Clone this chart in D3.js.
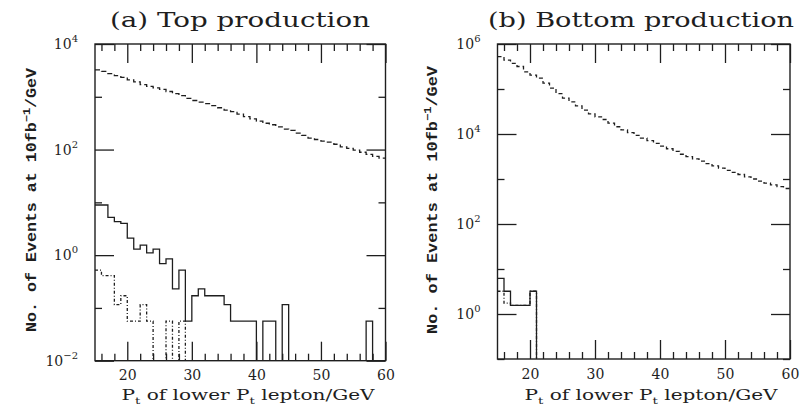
<!DOCTYPE html>
<html><head><meta charset="utf-8">
<script src="https://cdn.jsdelivr.net/npm/d3@7"></script>
<style>body{margin:0;background:#fff}svg{display:block}</style>
</head><body>
<svg id="c" width="800" height="413"></svg>
<script>
// ---- data (1 GeV bins from 15 to 60) ----
const binStart = 15, binEnd = 60;
const titles = ["(a) Top production", "(b) Bottom production"];
const xTickValues = [20, 30, 40, 50, 60];
const xMinorValues = [16, 18, 22, 24, 26, 28, 32, 34, 36, 38, 42, 44, 46, 48, 52, 54, 56, 58];
const leftYMajor = [1e-2, 1e0, 1e2, 1e4];
const leftYMinor = [1e-1, 1e1, 1e3];
const rightYMajor = [1e0, 1e2, 1e4, 1e6];
const rightYMinor = [1e-1, 1e1, 1e3, 1e5];

// (a) Top production
const topBackground = [3240, 3020, 2750, 2510, 2340, 2090, 1910, 1700, 1580, 1480,
  1380, 1260, 1150, 1050, 930, 850, 790, 740, 680, 620,
  560, 525, 470, 420, 380, 345, 315, 295, 270, 245,
  230, 205, 185, 165, 155, 145, 138, 126, 112, 105,
  98, 89, 81, 74, 69];
const topSignal = [8.9, 8.9, 5.2, 4.3, 4.0, 2.1, 1.3, 1.55, 1.1, 1.3,
  0.69, 0.85, 0.23, 0.52, 0.056, 0.17, 0.23, 0.17, 0.17, 0.17,
  0.115, 0.056, 0.056, 0.056, 0.056, 0, 0.056, 0.056, 0, 0.115,
  0, 0, 0, 0, 0, 0, 0, 0, 0, 0,
  0, 0, 0.056, 0, 0];
const topSignal2 = [0.52, 0.41, 0.41, 0.115, 0.17, 0.056, 0.056, 0.115, 0.056, 0,
  0, 0.056, 0, 0.056, 0, 0, 0, 0, 0, 0,
  0, 0, 0, 0, 0, 0, 0, 0, 0, 0,
  0, 0, 0, 0, 0, 0, 0, 0, 0, 0,
  0, 0, 0, 0, 0];

// (b) Bottom production
const bottomBackground = [525000, 437000, 372000, 316000, 240000, 204000, 174000, 135000, 105000, 79000,
  63000, 52000, 42000, 34000, 28000, 24000, 21000, 17400, 14500, 12300,
  10700, 9300, 8100, 7100, 6200, 5400, 4700, 4100, 3550, 3150,
  2800, 2500, 2200, 1950, 1750, 1560, 1400, 1260, 1120, 1000,
  900, 810, 740, 675, 615];
const bottomSignal = [6.2, 3.2, 1.55, 1.55, 1.55, 3.2, 0, 0, 0, 0,
  0, 0, 0, 0, 0, 0, 0, 0, 0, 0,
  0, 0, 0, 0, 0, 0, 0, 0, 0, 0,
  0, 0, 0, 0, 0, 0, 0, 0, 0, 0,
  0, 0, 0, 0, 0];
const bottomSignal2 = [3.2, 1.75, 1.55, 1.55, 1.55, 3.2, 0, 0, 0, 0,
  0, 0, 0, 0, 0, 0, 0, 0, 0, 0,
  0, 0, 0, 0, 0, 0, 0, 0, 0, 0,
  0, 0, 0, 0, 0, 0, 0, 0, 0, 0,
  0, 0, 0, 0, 0];

// ---- drawing ----
const svg = d3.select("#c");
const ink = "#1e1e1e";

const panels = [
  {title: titles[0], x0: 95, x1: 385.5, y0: 44, y1: 360.7, yDom: [1e-2, 1e4],
   yMajor: leftYMajor, yMinor: leftYMinor, titleX: 240, titleW: 260,
   xLabX: 248, yLabX: 36, yLabW: 264,
   series: [
     {vals: topBackground, dash: "5,3"},
     {vals: topSignal, dash: null},
     {vals: topSignal2, dash: "3,2,1,2"}
   ]},
  {title: titles[1], x0: 497.5, x1: 790, y0: 44, y1: 359, yDom: [1e-1, 1e6],
   yMajor: rightYMajor, yMinor: rightYMinor, titleX: 641, titleW: 306,
   xLabX: 651, yLabX: 437, yLabW: 268,
   series: [
     {vals: bottomBackground, dash: "4,3"},
     {vals: bottomSignal2, dash: "3,2,1,2"},
     {vals: bottomSignal, dash: null}
   ]}
];

panels.forEach((p, pi) => {
  const x = d3.scaleLinear().domain([binStart, binEnd]).range([p.x0, p.x1]);
  const y = d3.scaleLog().domain(p.yDom).range([p.y1, p.y0]);
  const g = svg.append("g");

  const clipId = "clip" + pi;
  svg.append("clipPath").attr("id", clipId).append("rect")
    .attr("x", p.x0).attr("y", p.y0).attr("width", p.x1 - p.x0).attr("height", p.y1 - p.y0);

  // histograms
  p.series.forEach(s => {
    const floor = p.y1 + 3;
    let d = "";
    s.vals.forEach((v, i) => {
      const yy = v > 0 ? y(v) : floor;
      const xa = x(binStart + i), xb = x(binStart + i + 1);
      d += (i === 0 ? "M" : "L") + xa + "," + yy + "L" + xb + "," + yy;
    });
    g.append("path").attr("d", d).attr("fill", "none").attr("stroke", ink)
      .attr("stroke-width", 1.3).attr("stroke-dasharray", s.dash)
      .attr("clip-path", "url(#" + clipId + ")");
  });

  // axes with inward ticks
  const styleAxis = sel => {
    sel.select(".domain").remove();
    sel.selectAll("line").attr("stroke", ink).attr("stroke-width", 1.3);
  };
  g.append("g").attr("transform", `translate(0,${p.y1})`)
    .call(d3.axisBottom(x).tickValues(xTickValues).tickSize(-19).tickPadding(12)
      .tickFormat(d3.format("d")))
    .call(styleAxis)
    .call(a => a.selectAll("text").attr("font-family", "DejaVu Serif")
      .attr("font-size", 14).attr("fill", ink).attr("dy", "0.55em"));
  g.append("g").attr("transform", `translate(0,${p.y1})`)
    .call(d3.axisBottom(x).tickValues(xMinorValues).tickSize(-7).tickFormat(""))
    .call(styleAxis);
  g.append("g").attr("transform", `translate(0,${p.y0})`)
    .call(d3.axisTop(x).tickValues(xTickValues).tickSize(-19).tickFormat(""))
    .call(styleAxis);
  g.append("g").attr("transform", `translate(0,${p.y0})`)
    .call(d3.axisTop(x).tickValues(xMinorValues).tickSize(-7).tickFormat(""))
    .call(styleAxis);

  const leftAx = g.append("g").attr("transform", `translate(${p.x0},0)`)
    .call(d3.axisLeft(y).tickValues(p.yMajor).tickSize(-19).tickPadding(17).tickFormat(""))
    .call(styleAxis);
  leftAx.selectAll(".tick text").each(function(d) {
    const t = d3.select(this).attr("font-family", "DejaVu Serif").attr("fill", ink)
      .attr("text-anchor", "end").attr("dy", null).attr("y", 4.5).attr("font-size", 14);
    t.append("tspan").text("10");
    t.append("tspan").attr("font-size", 10).attr("dy", -7).text(String(Math.round(Math.log10(d))).replace("-", "\u2212"));
  });
  g.append("g").attr("transform", `translate(${p.x0},0)`)
    .call(d3.axisLeft(y).tickValues(p.yMinor).tickSize(-7).tickFormat(""))
    .call(styleAxis);
  g.append("g").attr("transform", `translate(${p.x1},0)`)
    .call(d3.axisRight(y).tickValues(p.yMajor).tickSize(-19).tickFormat(""))
    .call(styleAxis);
  g.append("g").attr("transform", `translate(${p.x1},0)`)
    .call(d3.axisRight(y).tickValues(p.yMinor).tickSize(-7).tickFormat(""))
    .call(styleAxis);

  // frame
  g.append("rect").attr("x", p.x0).attr("y", p.y0).attr("width", p.x1 - p.x0)
    .attr("height", p.y1 - p.y0).attr("fill", "none").attr("stroke", ink).attr("stroke-width", 1.4);

  // title
  g.append("text").attr("x", p.titleX).attr("y", 27).attr("text-anchor", "middle")
    .attr("font-family", "DejaVu Serif").attr("font-size", 21).attr("fill", ink)
    .attr("textLength", p.titleW).attr("lengthAdjust", "spacingAndGlyphs")
    .text(p.title);

  // x label
  const xl = g.append("text").attr("x", p.xLabX).attr("y", 400).attr("text-anchor", "middle")
    .attr("font-family", "DejaVu Serif").attr("font-size", 15).attr("fill", ink)
    .attr("textLength", 253).attr("lengthAdjust", "spacingAndGlyphs");
  xl.append("tspan").text("P");
  xl.append("tspan").attr("font-size", 10).attr("dy", 4).text("t");
  xl.append("tspan").attr("dy", -4).text(" of lower P");
  xl.append("tspan").attr("font-size", 10).attr("dy", 4).text("t");
  xl.append("tspan").attr("dy", -4).text(" lepton/GeV");

  // y label
  const yl = g.append("text").attr("transform", `translate(${p.yLabX},200) rotate(-90)`)
    .attr("text-anchor", "middle").attr("font-family", "Liberation Mono").attr("font-weight", "bold")
    .attr("font-size", 14).attr("fill", ink)
    .attr("textLength", p.yLabW).attr("lengthAdjust", "spacingAndGlyphs");
  yl.append("tspan").text("No. of Events at 10fb");
  yl.append("tspan").attr("font-size", 10).attr("dy", -6).text("\u22121");
  yl.append("tspan").attr("dy", 6).text("/GeV");
});
</script>
</body></html>
